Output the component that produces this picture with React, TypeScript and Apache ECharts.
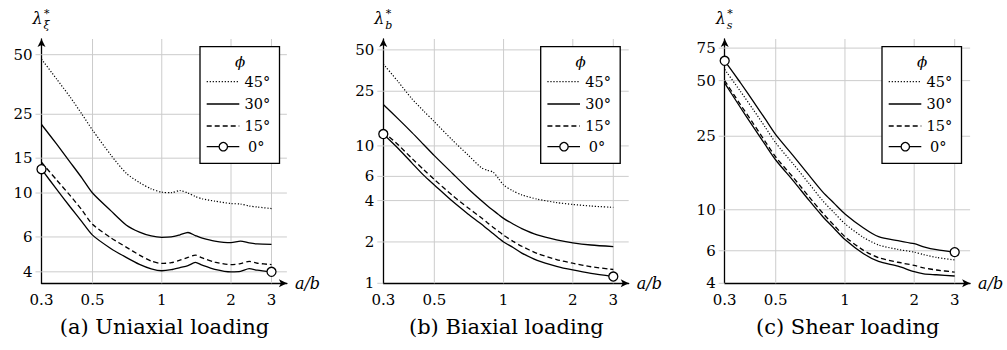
import React, { useEffect, useRef } from "react";
import * as echarts from "echarts";

// ---------- data ----------
const X_TICKS = [0.3, 0.5, 1, 2, 3];
const Y_TICKS_A = [4, 6, 10, 15, 25, 50];
const Y_TICKS_B = [1, 2, 4, 6, 10, 25, 50];
const Y_TICKS_C = [4, 6, 10, 25, 50, 75];
const LEGEND_LABELS = ["45°", "30°", "15°", "0°"];
const CAPTIONS = ["(a) Uniaxial loading", "(b) Biaxial loading", "(c) Shear loading"];
const Y_SUBS = ["ξ", "b", "s"];

const X_A = [0.3, 0.35, 0.4, 0.45, 0.5, 0.6, 0.7, 0.8, 0.9, 1.0, 1.1, 1.2, 1.3, 1.4, 1.5, 1.7, 2.0, 2.2, 2.4, 2.6, 3.0];
const A_45 = [47.5, 37.5, 30.5, 25, 20.8, 15.6, 12.6, 11.3, 10.5, 10.1, 10.05, 10.3, 10.0, 9.6, 9.35, 9.1, 8.85, 8.8, 8.6, 8.5, 8.35];
const A_30 = [22.2, 17.6, 14.3, 11.9, 10.0, 8.15, 6.9, 6.35, 6.07, 5.97, 6.0, 6.15, 6.32, 6.1, 5.92, 5.72, 5.62, 5.72, 5.6, 5.53, 5.5];
const A_15 = [14.3, 11.6, 9.7, 8.2, 6.95, 5.95, 5.33, 4.86, 4.53, 4.41, 4.45, 4.58, 4.73, 4.86, 4.7, 4.48, 4.35, 4.4, 4.52, 4.42, 4.35];
const A_0 = [13.2, 10.4, 8.5, 7.15, 6.13, 5.25, 4.73, 4.36, 4.14, 4.05, 4.1, 4.2, 4.3, 4.46, 4.32, 4.12, 4.0, 4.02, 4.15, 4.08, 4.0];

const X_B = [0.3, 0.35, 0.4, 0.45, 0.5, 0.6, 0.7, 0.8, 0.85, 0.9, 0.95, 1.0, 1.1, 1.2, 1.4, 1.7, 2.0, 2.4, 3.0];
const B_45 = [39.5, 29, 22, 17.9, 15.0, 11.0, 8.6, 6.95, 6.65, 6.45, 5.8, 5.2, 4.7, 4.4, 4.1, 3.87, 3.75, 3.65, 3.57];
const B_30 = [20, 15.6, 12.5, 10.2, 8.5, 6.3, 4.9, 4.0, 3.67, 3.4, 3.17, 2.97, 2.7, 2.5, 2.25, 2.07, 1.97, 1.9, 1.85];
const B_15 = [12.7, 10.1, 8.1, 6.7, 5.7, 4.35, 3.55, 3.0, 2.76, 2.56, 2.39, 2.24, 2.02, 1.86, 1.65, 1.49, 1.4, 1.32, 1.26];
const B_0 = [12.2, 9.5, 7.5, 6.1, 5.2, 3.95, 3.2, 2.7, 2.48, 2.3, 2.14, 2.0, 1.82, 1.66, 1.47, 1.33, 1.25, 1.18, 1.12];

const X_C = [0.3, 0.35, 0.4, 0.45, 0.5, 0.6, 0.7, 0.8, 0.9, 1.0, 1.2, 1.4, 1.7, 2.0, 2.2, 2.5, 3.0];
const C_45 = [57.5, 44, 34.7, 28, 23, 17.5, 13.8, 11.2, 9.6, 8.4, 7.1, 6.45, 6.1, 5.9, 5.72, 5.52, 5.35];
const C_30 = [48.5, 36, 28, 22.5, 18.6, 14.2, 11.2, 9.2, 7.9, 6.9, 5.8, 5.25, 4.95, 4.62, 4.5, 4.45, 4.38];
const C_15 = [50, 37.3, 29.2, 23.4, 19.3, 14.8, 11.7, 9.6, 8.2, 7.15, 6.05, 5.5, 5.2, 5.0, 4.85, 4.72, 4.6];
const C_0 = [64, 49, 38.5, 31, 25.5, 19.4, 15.3, 12.5, 10.8, 9.5, 8.0, 7.15, 6.8, 6.55, 6.3, 6.08, 5.9];

// ---------- layout / style ----------
const FONT = "DejaVu Serif";
const GRID_LEFTS = [41.5, 383.3, 724.7];
const GRID_TOP = 39;
const GRID_W = 245.4;
const GRID_H = 244.3;
const X_RANGE = [0.3, 3.5];
const Y_RANGES = [[3.5, 60], [1, 60], [4, 84]];
const LEGEND_LEFTS = [200, 540.7, 882];
const GRID_COLOR = "#cccccc";
const TICK_LEN = 6;

const LINE_STYLES: any[] = [
  { color: "#000", width: 1.2, type: [1.2, 1.8] },
  { color: "#000", width: 1.3, type: "solid" },
  { color: "#000", width: 1.3, type: [5, 3] },
  { color: "#000", width: 1.3, type: "solid" },
];

const PANELS = [
  { xs: X_A, ys: [A_45, A_30, A_15, A_0], yTicks: Y_TICKS_A },
  { xs: X_B, ys: [B_45, B_30, B_15, B_0], yTicks: Y_TICKS_B },
  { xs: X_C, ys: [C_45, C_30, C_15, C_0], yTicks: Y_TICKS_C },
];

const fmt = (v: number) => String(Number(Number(v).toPrecision(4)));

function buildOption() {
  const grid: any[] = [];
  const xAxis: any[] = [];
  const yAxis: any[] = [];
  const series: any[] = [];

  PANELS.forEach((p, i) => {
    grid.push({ left: GRID_LEFTS[i], top: GRID_TOP, width: GRID_W, height: GRID_H });
    const axisLine = {
      show: true,
      onZero: false,
      symbol: ["none", "arrow"],
      symbolSize: [6, 8],
      lineStyle: { color: "#000", width: 1.3 },
    };
    xAxis.push({
      type: "log",
      logBase: 10,
      gridIndex: i,
      min: X_RANGE[0],
      max: X_RANGE[1],
      axisLine,
      axisTick: { show: false },
      minorTick: { show: false },
      axisLabel: { customValues: X_TICKS, formatter: fmt, color: "#000", fontFamily: FONT, fontSize: 15, margin: 9 },
      splitLine: { show: false },
    });
    yAxis.push({
      type: "log",
      logBase: 10,
      gridIndex: i,
      min: Y_RANGES[i][0],
      max: Y_RANGES[i][1],
      axisLine,
      axisTick: { show: false },
      minorTick: { show: false },
      axisLabel: { customValues: p.yTicks, formatter: fmt, color: "#000", fontFamily: FONT, fontSize: 15, margin: 9 },
      splitLine: { show: false },
    });

    p.ys.forEach((ys, k) => {
      const isZero = k === 3;
      const data = p.xs.map((x, j) =>
        isZero
          ? { value: [x, ys[j]], symbol: j === 0 || j === p.xs.length - 1 ? "circle" : "none" }
          : [x, ys[j]]
      );
      series.push({
        type: "line",
        name: LEGEND_LABELS[k],
        xAxisIndex: i,
        yAxisIndex: i,
        data,
        smooth: 0.25,
        clip: false,
        symbol: isZero ? "circle" : "none",
        showSymbol: isZero,
        symbolSize: 9,
        itemStyle: { color: "#fff", borderColor: "#000", borderWidth: 1.3 },
        lineStyle: LINE_STYLES[k],
        z: 3 + k,
        silent: true,
      });
    });
  });

  return { animation: false, backgroundColor: "#fff", textStyle: { fontFamily: FONT }, grid, xAxis, yAxis, series };
}

function buildGraphics(chart: any) {
  const g: any[] = [];
  PANELS.forEach((p, i) => {
    const finder = { xAxisIndex: i, yAxisIndex: i };
    const [y0v, y1v] = Y_RANGES[i];
    // vertical grid lines (positions from the chart's own scales)
    X_TICKS.filter((v) => v > X_RANGE[0]).forEach((v) => {
      const a = chart.convertToPixel(finder, [v, y0v]);
      const b = chart.convertToPixel(finder, [v, y1v]);
      g.push({ type: "line", z: 1, silent: true, shape: { x1: a[0], y1: a[1], x2: b[0], y2: b[1] }, style: { stroke: GRID_COLOR, lineWidth: 1 } });
    });
    // horizontal grid lines + ticks
    p.yTicks.forEach((v) => {
      const a = chart.convertToPixel(finder, [X_RANGE[0], v]);
      const b = chart.convertToPixel(finder, [X_RANGE[1], v]);
      if (v > y0v) {
        g.push({ type: "line", z: 1, silent: true, shape: { x1: a[0], y1: a[1], x2: b[0], y2: b[1] }, style: { stroke: GRID_COLOR, lineWidth: 1 } });
      }
      g.push({ type: "line", z: 1, silent: true, shape: { x1: a[0] - TICK_LEN, y1: a[1], x2: a[0], y2: a[1] }, style: { stroke: GRID_COLOR, lineWidth: 1 } });
    });

    const ax = GRID_LEFTS[i];
    const txt = (text: string, x: number, y: number, fontSize: number, italic: boolean, align = "left") => ({
      type: "text",
      x,
      y,
      z: 50,
      silent: true,
      style: { text, fontFamily: FONT, fontStyle: italic ? "italic" : "normal", fontSize, fill: "#000", align, verticalAlign: "middle" },
    });
    g.push(txt("λ", ax - 4, 18.5, 16, true, "center"));
    g.push(txt("*", ax + 2.5, 13, 11, false));
    g.push(txt(Y_SUBS[i], ax + 2, 25.5, 11, true));
    g.push(txt("a/b", ax + GRID_W + 8, 283, 16, true));
    g.push(txt(CAPTIONS[i], ax + 123, 327, 21, false, "center"));

    // legend box
    const lx = LEGEND_LEFTS[i];
    const rows = [81.7, 104, 126, 146.7];
    g.push({ type: "rect", z: 60, silent: true, shape: { x: lx, y: 46.7, width: 79.5, height: 116.6 }, style: { fill: "#fff", stroke: "#000", lineWidth: 1.3 } });
    g.push({ ...txt("ϕ", lx + 40, 62, 15, true, "center"), z: 61 });
    LEGEND_LABELS.forEach((lab, k) => {
      const ls = LINE_STYLES[k];
      g.push({
        type: "line",
        z: 61,
        silent: true,
        shape: { x1: lx + 6.7, y1: rows[k], x2: lx + 39.3, y2: rows[k] },
        style: { stroke: "#000", lineWidth: ls.width, lineDash: Array.isArray(ls.type) ? ls.type : null },
      });
      if (k === 3) {
        g.push({ type: "circle", z: 62, silent: true, shape: { cx: lx + 23.3, cy: rows[k], r: 4.2 }, style: { fill: "#fff", stroke: "#000", lineWidth: 1.3 } });
      }
      g.push({ ...txt(lab, k === 3 ? lx + 48 : lx + 44.5, rows[k], 14.5, false), z: 62 });
    });
  });
  return g;
}

export default function App() {
  const ref = useRef<HTMLDivElement>(null);
  useEffect(() => {
    if (!ref.current) return;
    const chart = echarts.init(ref.current, null, { renderer: "svg" });
    chart.setOption(buildOption() as any);
    chart.setOption({ graphic: buildGraphics(chart) } as any);
    return () => chart.dispose();
  }, []);
  return (
    <div
      ref={ref}
      style={{ position: "fixed", left: 0, top: 0, width: 1007, height: 350, background: "#fff" }}
    />
  );
}
